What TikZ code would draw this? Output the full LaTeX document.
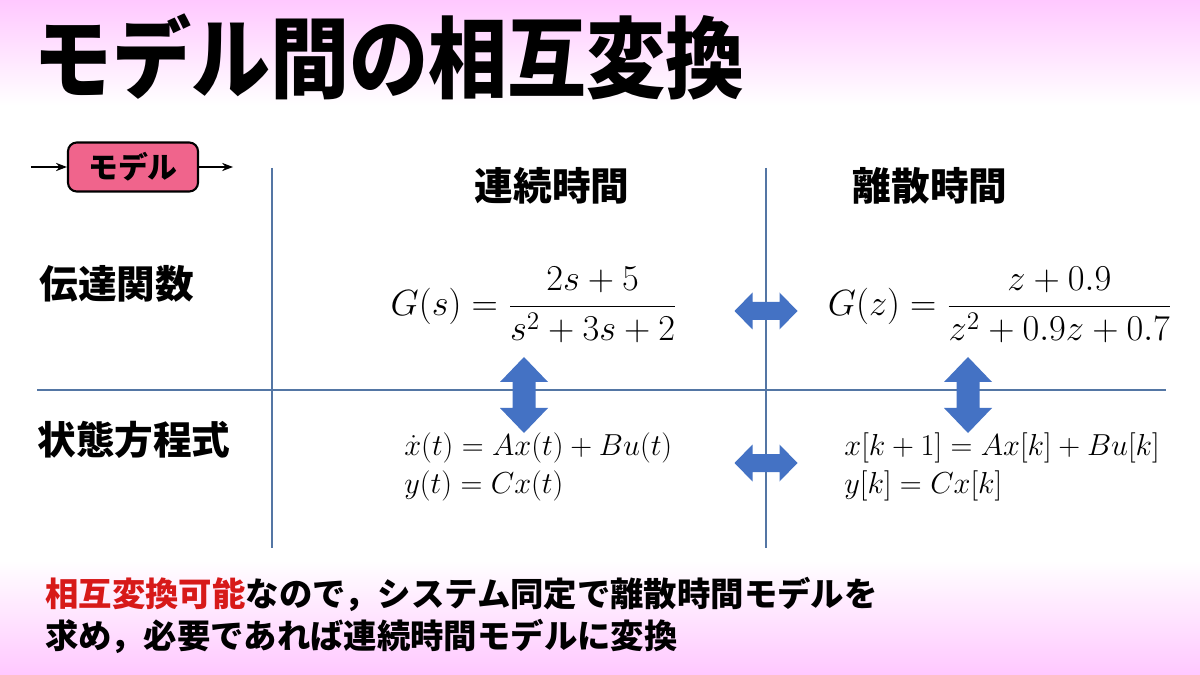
\documentclass[tikz,border=0pt]{standalone}
\usepackage{amsmath}
\usepackage{fontspec}
\newfontfamily\jpfont{Noto Sans CJK JP}
\usetikzlibrary{positioning,arrows.meta}
\definecolor{bandpink}{RGB}{255,200,255}
\definecolor{gridblue}{RGB}{84,118,164}
\definecolor{arrowblue}{RGB}{68,114,196}
\definecolor{modelpink}{RGB}{240,100,140}
\definecolor{hilite}{RGB}{215,25,25}

\begin{document}
\begin{tikzpicture}[
  x=0.02cm, y=-0.02cm,
  >={Stealth[length=2.2mm]},
  every node/.style={inner sep=0pt},
  ttl/.style={font=\jpfont\bfseries\fontsize{45}{50}\selectfont, anchor=west},
  head/.style={font=\jpfont\bfseries\fontsize{22}{26}\selectfont},
  rowlab/.style={font=\jpfont\bfseries\fontsize{22}{26}\selectfont, anchor=west},
  eq/.style={font=\fontsize{20}{24}\selectfont},
  steq/.style={font=\fontsize{17}{21.5}\selectfont, align=left, anchor=west},
  note/.style={font=\jpfont\bfseries\fontsize{19}{22}\selectfont, anchor=west},
  grid/.style={gridblue, line width=0.6pt},
  blk/.style={fill=arrowblue},
  sig/.style={->, thick},
]
% background bands
\fill[white] (0,0) rectangle (1200,675);
\shade[top color=bandpink, bottom color=white] (0,0) rectangle (1200,105);
\shade[top color=white, bottom color=bandpink] (0,560) rectangle (1200,675);
\useasboundingbox (0,0) rectangle (1200,675);

\node[ttl, transform shape, yscale=1.12] (title) at (33,57) {モデル間の相互変換};

% model block
\node[draw, line width=1.2pt, rounded corners=5pt, fill=modelpink,
      minimum width=2.6cm, minimum height=0.98cm,
      font=\jpfont\bfseries\fontsize{17}{19}\selectfont] (model) at (133,167) {モデル};
\coordinate[left=0.72cm of model.west] (uin);
\coordinate[right=0.68cm of model.east] (yout);
\draw[sig] (uin) -- (model.west);
\draw[sig] (model.east) -- (yout);

% grid
\draw[grid] (272,168) -- (272,548);
\draw[grid] (766,168) -- (766,548);
\draw[grid] (37,390) -- (1166,390);

% headers
\node[head] (cont) at (552,186) {連続時間};
\node[head] (disc) at (930,186) {離散時間};
\node[rowlab] (tf) at (39,284) {伝達関数};
\node[rowlab] (ss) at (37,440) {状態方程式};

% transfer functions
\node[eq] (gs) at (534,305) {$G(s)=\dfrac{2s+5}{s^2+3s+2}$};
\node[eq] (gz) at (1000,305) {$G(z)=\dfrac{z+0.9}{z^2+0.9z+0.7}$};

% state equations
\node[steq] (xs) at (404,467) {$\dot{x}(t)=Ax(t)+Bu(t)$\\$y(t)=Cx(t)$};
\node[steq] (xz) at (844,467) {$x[k+1]=Ax[k]+Bu[k]$\\$y[k]=Cx[k]$};

% block arrows
\foreach \cx/\cy in {766/311, 766/463}
  \fill[blk] (\cx-31.5,\cy) -- ++(18,-18.5) -- ++(0,9.5) -- ++(27,0) -- ++(0,-9.5)
    -- ++(18,18.5) -- ++(-18,18.5) -- ++(0,-9.5) -- ++(-27,0) -- ++(0,9.5) -- cycle;
\foreach \cx/\cy in {524/395, 968/395}
  \fill[blk] (\cx,\cy-38) -- ++(24,25) -- ++(-12.5,0) -- ++(0,26) -- ++(12.5,0)
    -- ++(-24,25) -- ++(-24,-25) -- ++(12.5,0) -- ++(0,-26) -- ++(-12.5,0) -- cycle;

% bottom note
\node[note] (n1) at (45,594) {\textcolor{hilite}{相互変換可能}なので，システム同定で離散時間モデルを};
\node[note] (n2) at (45,636) {求め，必要であれば連続時間モデルに変換};
\end{tikzpicture}
\end{document}
